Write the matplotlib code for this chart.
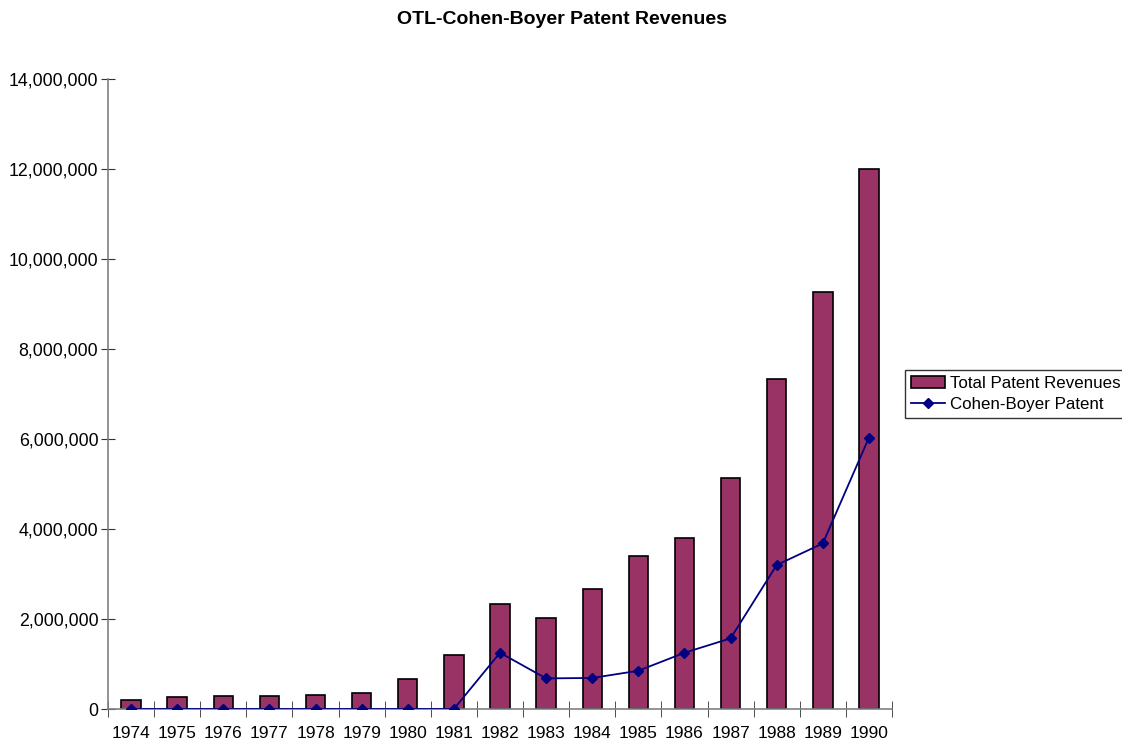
import matplotlib
matplotlib.use("Agg")
import matplotlib.pyplot as plt
import numpy as np
from matplotlib.ticker import FuncFormatter, FixedLocator

years = ["1974", "1975", "1976", "1977", "1978", "1979", "1980", "1981", "1982",
         "1983", "1984", "1985", "1986", "1987", "1988", "1989", "1990"]
total_revenues = [200000, 270000, 290000, 300000, 320000, 360000, 670000, 1210000, 2340000,
                  2030000, 2660000, 3390000, 3790000, 5140000, 7330000, 9260000, 11990000]
cohen_boyer = [0, 0, 0, 0, 0, 0, 0, 0, 1250000,
               680000, 690000, 850000, 1250000, 1570000, 3200000, 3680000, 6030000]

plt.rcParams['font.family'] = ['Liberation Sans', 'DejaVu Sans']

fig = plt.figure(figsize=(11.22, 7.42), dpi=100)
ax = fig.add_axes([108 / 1122, 1 - 709 / 742, (892 - 108) / 1122, (709 - 79) / 742])

x = np.arange(len(years))
bars = ax.bar(x, total_revenues, width=0.42, color='#993366', edgecolor='black', linewidth=1.2,
              label='Total Patent Revenues', zorder=2)
line, = ax.plot(x, cohen_boyer, color='#000080', marker='D', markersize=5.5, linewidth=1.3,
                label='Cohen-Boyer Patent', zorder=3)

ax.set_xlim(-0.5, len(years) - 0.5)
ax.set_ylim(0, 14000000)
ax.set_yticks(np.arange(0, 14000001, 2000000))
ax.yaxis.set_major_formatter(FuncFormatter(lambda v, p: f"{int(v):,}"))

ax.set_xticks(x)
ax.set_xticklabels(years)
ax.xaxis.set_minor_locator(FixedLocator(np.arange(-0.5, len(years), 1)))
ax.tick_params(axis='x', which='major', length=0, pad=12, labelsize=12.5)
ax.tick_params(axis='x', which='minor', direction='inout', length=12, color='#333333')
ax.tick_params(axis='y', direction='inout', length=10, color='#333333', labelsize=12.8, pad=2)

for s in ['top', 'right']:
    ax.spines[s].set_visible(False)
for s in ['left', 'bottom']:
    ax.spines[s].set_color('#808080')
    ax.spines[s].set_linewidth(1.2)

fig.text(562 / 1122, 1 - 20 / 742, "OTL-Cohen-Boyer Patent Revenues", ha='center', va='center',
         fontsize=14, fontweight='bold')

leg = fig.legend([bars, line], ['Total Patent Revenues', 'Cohen-Boyer Patent'],
                 loc='center left', bbox_to_anchor=(905 / 1122, 1 - 394 / 742), frameon=True,
                 fancybox=False, edgecolor='black', fontsize=12.2, borderpad=0.35,
                 handlelength=2.0, handletextpad=0.3, labelspacing=0.35, borderaxespad=0)
leg.get_frame().set_linewidth(1.0)

fig.savefig("out.png", dpi=100)
